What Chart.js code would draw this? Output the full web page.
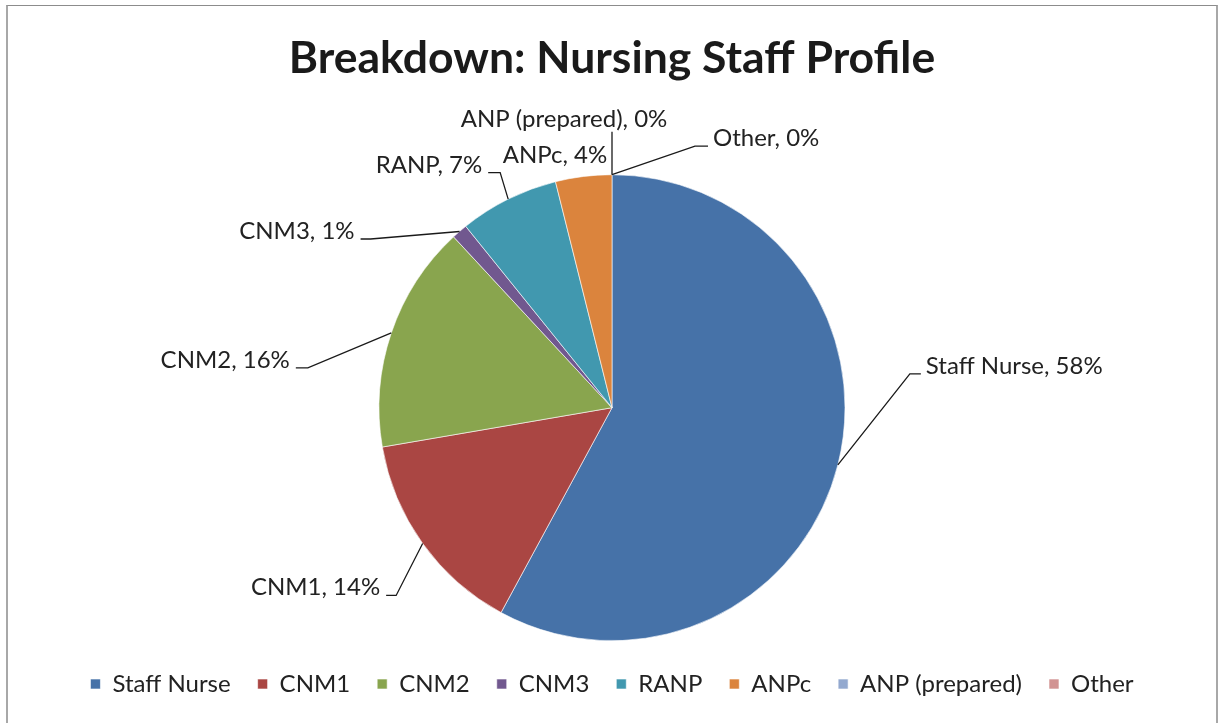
<!DOCTYPE html>
<html>
<head>
<meta charset="utf-8">
<script src="https://cdn.jsdelivr.net/npm/chart.js@4"></script>
<style>
  html, body { margin: 0; padding: 0; background: #ffffff; }
  #wrap { position: relative; width: 1219px; height: 723px; overflow: hidden; }
  #frame { position: absolute; left: 6px; top: 5px; width: 1208px; height: 740px;
           border-top: 1px solid #8c8c8c; border-left: 2px solid #a8a8a8; border-right: 2px solid #a8a8a8;
           pointer-events: none; }
  canvas { position: absolute; left: 0; top: 0; }
</style>
</head>
<body>
<div id="wrap">
  <canvas id="c" width="1219" height="723"></canvas>
  <div id="frame"></div>
</div>
<script>
// ---- data ----
const categories = ["Staff Nurse", "CNM1", "CNM2", "CNM3", "RANP", "ANPc", "ANP (prepared)", "Other"];
const shares = [57.9, 14.4, 15.8, 1.1, 6.9, 3.9, 0, 0];
const titleText = "Breakdown: Nursing Staff Profile";

// ---- styles ----
const sliceColors = ["#4672A8", "#AA4643", "#89A54E", "#71588F", "#4198AF", "#DB843D", "#93A9CF", "#D19392"];
const FONT = "Lato, 'Open Sans', sans-serif";

// label leader layout (offsets relative to the slice's outer mid-point)
const labelLayout = [
  { elbow: [72, -91], hook: 11 },
  { elbow: [-26.5, 52], hook: -10 },
  { elbow: [-83.5, 35], hook: -12 },
  { elbow: [-89, 7.5], hook: -10 },
  { elbow: [-8, -26.5], hook: -12 },
  { text: [-28.6, -13.7] },
  { elbow: [0, -43], hook: 0, textShift: [-48, -5] },
  { elbow: [83, -28.5], hook: 13 }
];

const labelPlugin = {
  id: 'pieLabels',
  afterDatasetsDraw(chart) {
    const ctx = chart.ctx;
    const meta = chart.getDatasetMeta(0);
    const data = chart.data.datasets[0].data;
    const total = data.reduce((a, b) => a + b, 0);
    ctx.save();
    ctx.font = "24px " + FONT;
    ctx.fillStyle = "#222222";
    ctx.strokeStyle = "#1a1a1a";
    ctx.lineWidth = 1.3;
    ctx.textBaseline = "alphabetic";
    meta.data.forEach((arc, i) => {
      const p = arc.getProps(['x', 'y', 'startAngle', 'endAngle', 'outerRadius'], true);
      const mid = (p.startAngle + p.endAngle) / 2;
      const ex = p.x + p.outerRadius * Math.cos(mid);
      const ey = p.y + p.outerRadius * Math.sin(mid);
      const pct = Math.round(data[i] / total * 100);
      const txt = categories[i] + ", " + pct + "%";
      const L = labelLayout[i];
      if (L.elbow) {
        const bx = ex + L.elbow[0], by = ey + L.elbow[1];
        const hx = bx + L.hook;
        ctx.beginPath();
        ctx.moveTo(ex, ey);
        ctx.lineTo(bx, by);
        ctx.lineTo(hx, by);
        ctx.stroke();
        if (L.textShift) {
          ctx.textAlign = "center";
          ctx.fillText(txt, bx + L.textShift[0], by + L.textShift[1]);
        } else if (L.hook >= 0) {
          ctx.textAlign = "left";
          ctx.fillText(txt, hx + 5, by);
        } else {
          ctx.textAlign = "right";
          ctx.fillText(txt, hx - 6, by);
        }
      } else {
        ctx.textAlign = "center";
        ctx.fillText(txt, ex + L.text[0], ey + L.text[1]);
      }
    });
    ctx.restore();
  }
};

new Chart(document.getElementById('c'), {
  type: 'pie',
  data: {
    labels: categories,
    datasets: [{
      data: shares,
      backgroundColor: sliceColors,
      borderColor: "rgba(255,255,255,0.6)",
      borderWidth: 1,
      radius: 233
    }]
  },
  options: {
    responsive: false,
    devicePixelRatio: 1,
    animation: false,
    layout: { padding: { top: 0, bottom: 17, left: 5, right: 0 } },
    plugins: {
      tooltip: { enabled: false },
      title: {
        display: true,
        text: titleText,
        color: "#1a1a1a",
        font: { family: FONT, size: 44.5, weight: 'bold' },
        padding: { top: 32, bottom: 85 }
      },
      legend: {
        display: true,
        position: 'bottom',
        labels: {
          color: "#222222",
          font: { family: FONT, size: 24 },
          boxWidth: 10,
          boxHeight: 10,
          padding: 27
        }
      }
    }
  },
  plugins: [labelPlugin]
});
</script>
</body>
</html>
